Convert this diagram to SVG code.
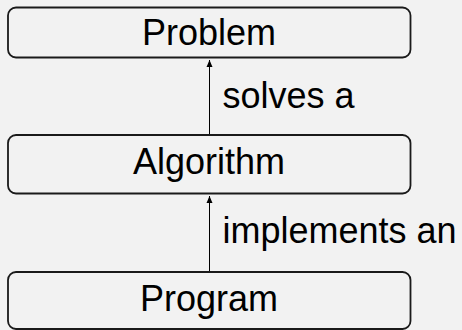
<svg xmlns="http://www.w3.org/2000/svg" width="462" height="330" viewBox="0 0 462 330">
<defs>
<marker id="ah" markerWidth="8" markerHeight="8" refX="7" refY="4" orient="auto" markerUnits="userSpaceOnUse">
<path d="M0,1 L7,4 L0,7 z" fill="#000"/>
</marker>
<style>
.box{fill:#f2f2f2;stroke:#1a1a1a;stroke-width:1.8}
.t{font-family:"Liberation Sans",Arial,sans-serif;font-size:36px;fill:#000}
.c{text-anchor:middle}
.e{stroke:#000;stroke-width:1;fill:none;marker-end:url(#ah)}
</style>
</defs>
<rect width="462" height="330" fill="#f2f2f2"/>
<g id="connectors">
<line class="e" x1="209.5" y1="135" x2="209.5" y2="60"/>
<line class="e" x1="209.5" y1="272" x2="209.5" y2="196"/>
<text class="t" x="222.5" y="108">solves a</text>
<text class="t" x="222.5" y="243">implements an</text>
</g>
<g id="problem">
<rect class="box" x="8" y="7.5" width="402.5" height="50" rx="8"/>
<text class="t c" x="209" y="45">Problem</text>
</g>
<g id="algorithm">
<rect class="box" x="8" y="135" width="402.5" height="58.5" rx="8"/>
<text class="t c" x="209" y="174">Algorithm</text>
</g>
<g id="program">
<rect class="box" x="8" y="272" width="402.5" height="57" rx="8"/>
<text class="t c" x="209" y="310.5">Program</text>
</g>
</svg>
